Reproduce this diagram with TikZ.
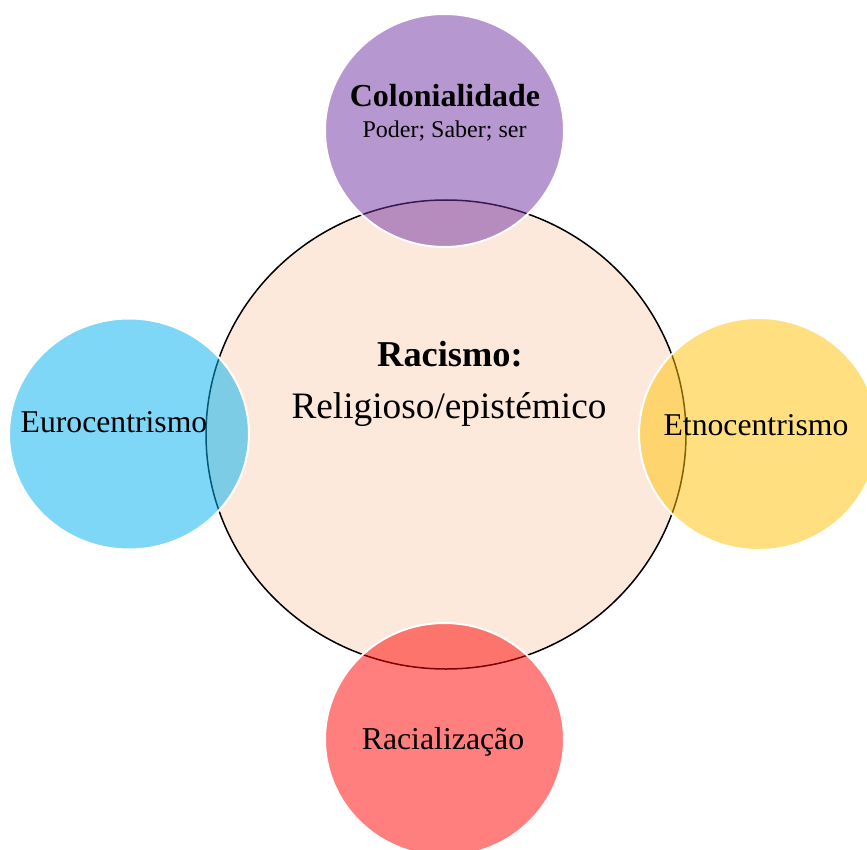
\documentclass[tikz,border=0pt]{standalone}
\usepackage{fontspec}
\setmainfont{Liberation Serif}
\definecolor{peach}{HTML}{FCE9DB}
\definecolor{cpurple}{HTML}{7030A0}
\definecolor{cblue}{HTML}{00B0F0}
\definecolor{cyellow}{HTML}{FFC000}
\definecolor{cred}{HTML}{FF0000}
\begin{document}
\begin{tikzpicture}[x=1pt,y=-1pt,
  smallcirc/.style={draw=white, line width=2pt, fill opacity=0.5, draw opacity=1},
  maincirc/.style={draw=black, line width=1.5pt, fill=peach},
  lbl/.style={anchor=base, inner sep=0pt, text=black}]
\useasboundingbox (0,0) rectangle (867,850);
\clip (0,0) rectangle (867,850);
% central circle
\draw[maincirc] (446,434.5) ellipse [x radius=240, y radius=234.5];
% satellites
\draw[smallcirc, fill=cpurple] (444.5,130.5) ellipse [x radius=119.5, y radius=116.5];
\draw[smallcirc, fill=cblue] (129,434) ellipse [x radius=120, y radius=115.5];
\draw[smallcirc, fill=cyellow] (758.5,434) ellipse [x radius=119.5, y radius=116];
\draw[smallcirc, fill=cred] (444.5,739.5) ellipse [x radius=119.5, y radius=116.5];
% texts
\node[lbl] (rac) at (450,366) {\fontsize{36.4}{41}\selectfont\bfseries Racismo:};
\node[lbl] (rel) at (449,418) {\fontsize{37.3}{42}\selectfont Religioso/epistémico};
\node[lbl] (col) at (445,107) {\fontsize{32}{36}\selectfont\bfseries Colonialidade};
\node[lbl] (pod) at (444.5,138) {\fontsize{24}{28}\selectfont Poder; Saber; ser};
\node[lbl] (eur) at (114,432) {\fontsize{31.7}{36}\selectfont Eurocentrismo};
\node[lbl] (etn) at (756,435) {\fontsize{31.7}{36}\selectfont Etnocentrismo};
\node[lbl] (rz) at (443,749) {\fontsize{31.8}{36}\selectfont Racialização};
\end{tikzpicture}
\end{document}
